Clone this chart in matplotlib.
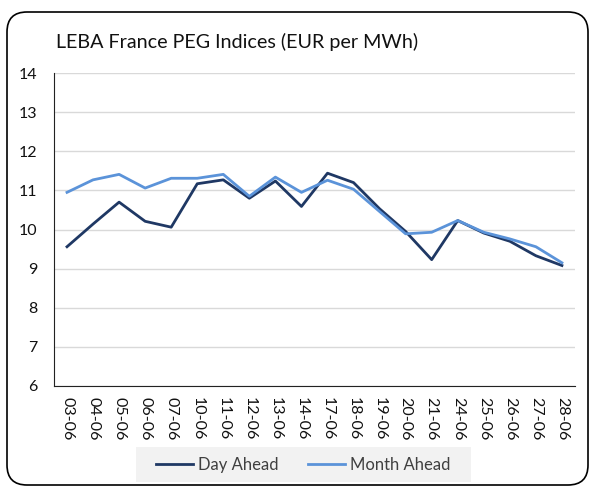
import matplotlib
matplotlib.use("Agg")
import matplotlib.pyplot as plt
from matplotlib.patches import FancyBboxPatch, Rectangle

# === DONNEES ===
dates = ["03-06", "04-06", "05-06", "06-06", "07-06", "10-06", "11-06", "12-06",
         "13-06", "14-06", "17-06", "18-06", "19-06", "20-06", "21-06", "24-06",
         "25-06", "26-06", "27-06", "28-06"]
day_ahead = [9.56, 10.14, 10.70, 10.21, 10.06, 11.17, 11.27, 10.80, 11.24, 10.59,
             11.44, 11.20, 10.53, 9.95, 9.23, 10.23, 9.91, 9.70, 9.33, 9.08]
month_ahead = [10.95, 11.27, 11.41, 11.06, 11.31, 11.31, 11.41, 10.85, 11.34, 10.95,
               11.26, 11.03, 10.46, 9.89, 9.93, 10.23, 9.93, 9.76, 9.56, 9.15]
y_ticks = [6, 7, 8, 9, 10, 11, 12, 13, 14]

plt.rcParams['font.family'] = ['Lato', 'DejaVu Sans']

fig = plt.figure(figsize=(5.9, 4.87), dpi=100)
ax = fig.add_axes([0.0915, 0.2074, 0.883, 0.6426])

x = list(range(len(dates)))
ax.plot(x, day_ahead, color="#1F3864", lw=2.0, label="Day Ahead", zorder=3)
ax.plot(x, month_ahead, color="#5B93D9", lw=2.0, label="Month Ahead", zorder=3)

ax.set_xlim(-0.5, len(dates) - 0.5)
ax.set_ylim(6, 14)
ax.set_yticks(y_ticks)
ax.set_yticklabels([str(v) for v in y_ticks], fontsize=11.5, color="#111111")
ax.set_xticks(x)
ax.set_xticklabels(dates, rotation=270, fontsize=11.5, color="#111111")
ax.tick_params(axis="both", length=0, pad=8)
ax.tick_params(axis="y", pad=12)

ax.grid(axis="y", color="#D9D9D9", lw=1.0)
ax.set_axisbelow(True)
for s in ["top", "right"]:
    ax.spines[s].set_visible(False)
ax.spines["left"].set_color("#222222")
ax.spines["bottom"].set_color("#222222")

fig.text(0.095, 0.913, "LEBA France PEG Indices (EUR per MWh)", fontsize=14.2,
         color="#111111", ha="left", va="center")

# fond gris de la legende
fond = Rectangle((136 / 590, 1 - 482 / 487), 335 / 590, 35 / 487,
                 transform=fig.transFigure, fc="#F2F2F2", ec="none", zorder=0)
fig.add_artist(fond)

leg = fig.legend(loc="center", bbox_to_anchor=(0.514, 0.045), ncol=2, fontsize=12,
                 frameon=False, handlelength=2.2, columnspacing=1.8,
                 handletextpad=0.3)
for t in leg.get_texts():
    t.set_color("#404040")

# cadre arrondi
cadre = FancyBboxPatch((0.07, 0.02), 5.81, 4.73,
                       boxstyle="round,pad=0,rounding_size=0.2",
                       transform=fig.dpi_scale_trans, fill=False,
                       ec="black", lw=1.2)
fig.add_artist(cadre)

plt.savefig("out.png", dpi=100)
plt.close()
